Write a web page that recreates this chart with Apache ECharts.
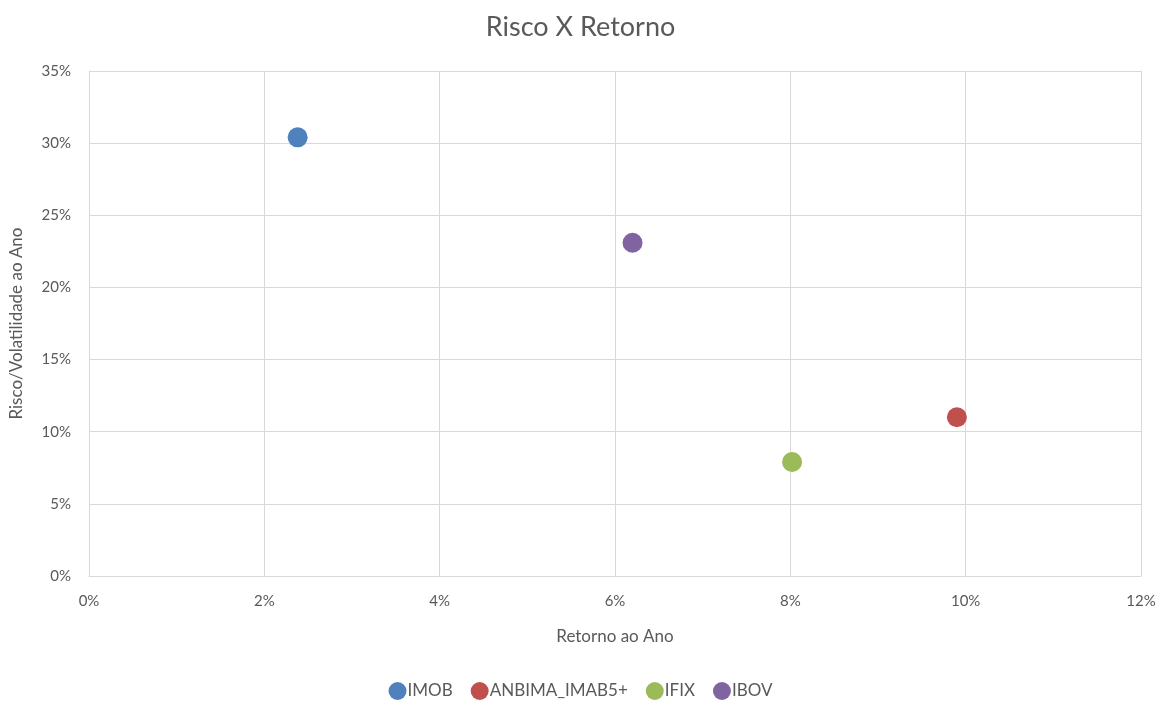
<!DOCTYPE html>
<html>
<head>
<meta charset="utf-8">
<script src="https://cdn.jsdelivr.net/npm/echarts@6/dist/echarts.min.js"></script>
<style>
  html, body { margin: 0; padding: 0; background: #fff; }
  #chart { width: 1161px; height: 705px; }
</style>
</head>
<body>
<div id="chart"></div>
<script>
// dados (retorno %, risco %)
var names = ["IMOB", "ANBIMA_IMAB5+", "IFIX", "IBOV"];
var retorno = [2.38, 9.9, 8.02, 6.2];
var risco = [30.4, 11.0, 7.9, 23.1];
var colors = ["#4F81BD", "#C0504D", "#9BBB59", "#8064A2"];

var font = "Lato, 'Open Sans', sans-serif";
var grey = "#595959";

var series = names.map(function (n, i) {
  return {
    name: n,
    type: "scatter",
    symbolSize: 20,
    data: [[retorno[i], risco[i]]],
    itemStyle: { color: colors[i], opacity: 1 }
  };
});

var option = {
  animation: false,
  title: {
    text: "Risco X Retorno",
    left: "center",
    top: 9,
    textStyle: { fontFamily: font, fontSize: 27, fontWeight: "normal", color: grey }
  },
  grid: { left: 89, right: 20, top: 71, bottom: 129 },
  xAxis: {
    type: "value",
    min: 0, max: 12, interval: 2,
    name: "Retorno ao Ano",
    nameLocation: "middle",
    nameGap: 52,
    nameTextStyle: { fontFamily: font, fontSize: 17, color: grey },
    axisLine: { show: true, lineStyle: { color: "#d9d9d9" } },
    axisTick: { show: false },
    axisLabel: { formatter: "{value}%", fontFamily: font, fontSize: 15, color: grey, margin: 18 },
    splitLine: { show: true, lineStyle: { color: "#d9d9d9" } }
  },
  yAxis: {
    type: "value",
    min: 0, max: 35, interval: 5,
    name: "Risco/Volatilidade ao Ano",
    nameLocation: "middle",
    nameGap: 64,
    nameTextStyle: { fontFamily: font, fontSize: 17, color: grey },
    axisLine: { show: true, lineStyle: { color: "#d9d9d9" } },
    axisTick: { show: false },
    axisLabel: { formatter: "{value}%", fontFamily: font, fontSize: 15, color: grey, margin: 18 },
    splitLine: { show: true, lineStyle: { color: "#d9d9d9" } }
  },
  legend: {
    bottom: 0,
    left: "center",
    icon: "circle",
    itemWidth: 18,
    itemHeight: 18,
    itemGap: 18,
    textStyle: { fontFamily: font, fontSize: 17, color: grey, padding: [0, 0, 0, -4] },
    data: names
  },
  series: series
};

var chart = echarts.init(document.getElementById("chart"));
chart.setOption(option);
</script>
</body>
</html>
